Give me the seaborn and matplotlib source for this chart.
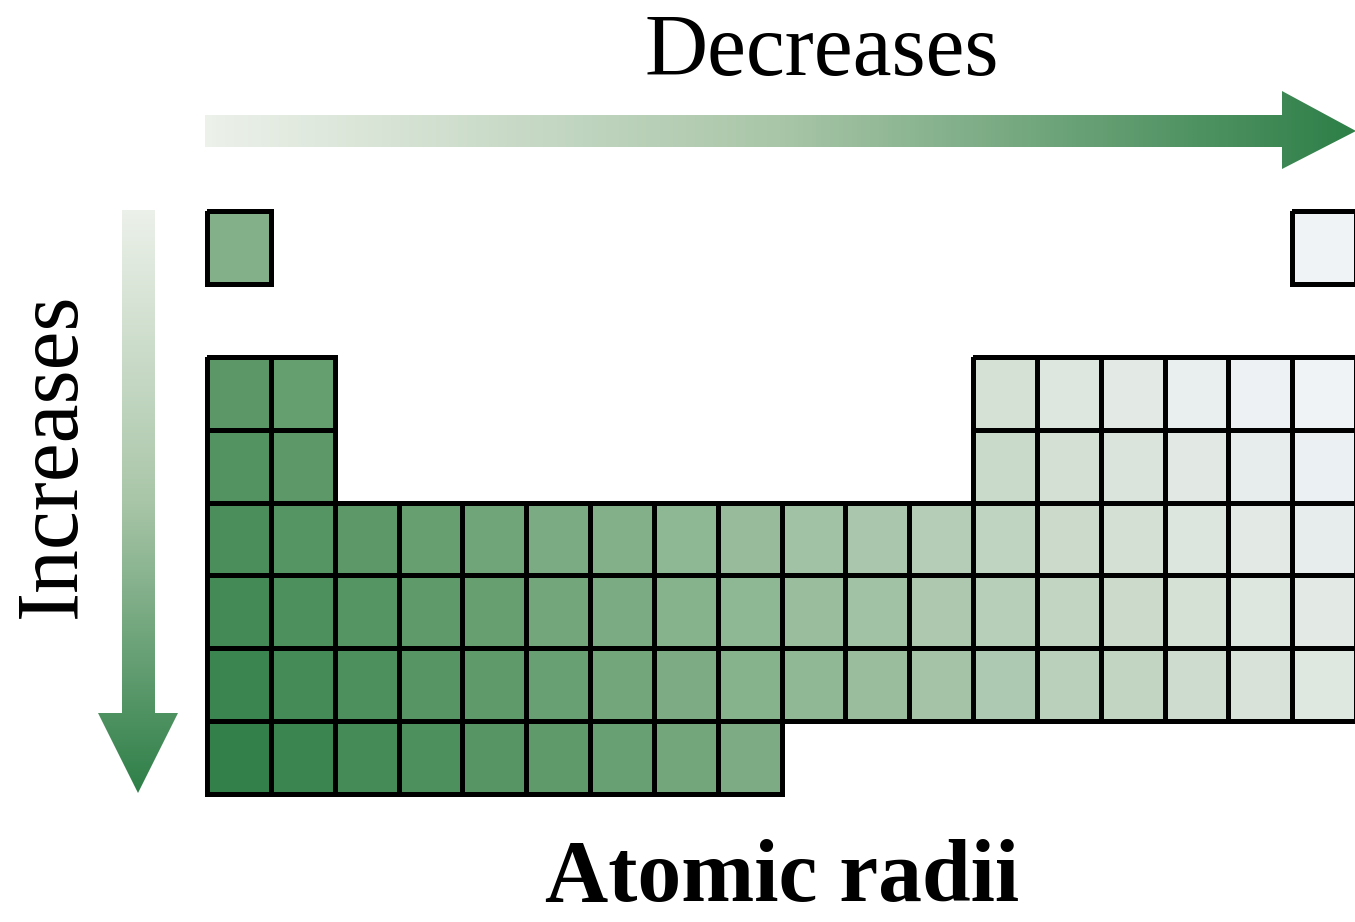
import numpy as np
import pandas as pd
import seaborn as sns
import matplotlib.pyplot as plt
from matplotlib.colors import LinearSegmentedColormap
from matplotlib.patches import Polygon

nan = np.nan

# shade of each cell (0 = white, 1 = dark green)
period_1 = [0.58] + [nan] * 16 + [0.02]
gap_row = [nan] * 18
period_2 = [0.77, 0.72] + [nan] * 10 + [0.20, 0.15, 0.11, 0.07, 0.04, 0.02]
period_3 = [0.81, 0.76] + [nan] * 10 + [0.26, 0.21, 0.17, 0.12, 0.08, 0.05]
period_4 = [0.85, 0.80, 0.76, 0.71, 0.67, 0.62, 0.58, 0.53, 0.49,
            0.44, 0.40, 0.35, 0.30, 0.25, 0.21, 0.16, 0.11, 0.08]
period_5 = [0.89, 0.84, 0.80, 0.75, 0.71, 0.66, 0.62, 0.57, 0.53,
            0.48, 0.44, 0.39, 0.34, 0.29, 0.25, 0.20, 0.15, 0.11]
period_6 = [0.93, 0.88, 0.84, 0.79, 0.75, 0.70, 0.66, 0.61, 0.57,
            0.52, 0.48, 0.43, 0.38, 0.33, 0.29, 0.24, 0.19, 0.14]
period_7 = [0.97, 0.93, 0.88, 0.84, 0.79, 0.75, 0.70, 0.66, 0.61] + [nan] * 9

groups = list(range(1, 19))
rows = ['1', '', '2', '3', '4', '5', '6', '7']

title_top = 'Decreases'
title_left = 'Increases'
title_bottom = 'Atomic radii'

df = pd.DataFrame([period_1, gap_row, period_2, period_3, period_4,
                   period_5, period_6, period_7], index=rows, columns=groups)

cell_cmap = LinearSegmentedColormap.from_list('cells', [
    (0.0, '#f2f5fa'), (0.2, '#d6e1d6'), (0.35, '#b5cdb7'),
    (0.55, '#8ab48f'), (0.75, '#5f9a6a'), (1.0, '#2e7d47')])
arrow_cmap = LinearSegmentedColormap.from_list('arrow', ['#ecf1ea', '#a9c6a8', '#2e7f48'])

plt.rcParams['font.family'] = ['Liberation Serif', 'DejaVu Serif']
W, H = 1355, 922
fig = plt.figure(figsize=(W / 100, H / 100), dpi=100)

# overlay in pixel units for the two gradient arrows
ax0 = fig.add_axes([0, 0, 1, 1])
ax0.set_xlim(0, W)
ax0.set_ylim(H, 0)
ax0.axis('off')

ramp = np.linspace(0, 1, 256)

# horizontal arrow
h_arrow = Polygon([(205, 115), (1282, 115), (1282, 91), (1356, 131),
                   (1282, 169), (1282, 147), (205, 147)], closed=True,
                  facecolor='none', edgecolor='none')
ax0.add_patch(h_arrow)
im = ax0.imshow(ramp.reshape(1, -1), extent=[205, 1356, 169, 91],
                cmap=arrow_cmap, aspect='auto', interpolation='bilinear')
im.set_clip_path(h_arrow)

# vertical arrow
v_arrow = Polygon([(122, 210), (155, 210), (155, 713), (178, 713), (138, 793),
                   (98, 713), (122, 713)], closed=True,
                  facecolor='none', edgecolor='none')
ax0.add_patch(v_arrow)
im2 = ax0.imshow(ramp.reshape(-1, 1), extent=[98, 178, 793, 210],
                 cmap=arrow_cmap, aspect='auto', interpolation='bilinear', origin='upper')
im2.set_clip_path(v_arrow)
ax0.set_xlim(0, W)
ax0.set_ylim(H, 0)

# periodic table grid
ax = fig.add_axes([207 / W, 1 - 794 / H, 1149 / W, 583 / H])
sns.heatmap(df, ax=ax, cmap=cell_cmap, vmin=0, vmax=1, cbar=False,
            linewidths=3.6, linecolor='black',
            xticklabels=False, yticklabels=False)
mesh = ax.collections[0]
mesh.set_clip_on(False)
# no outline on the empty cells
empty = df.isna().to_numpy().ravel()
edge_cols = np.zeros((empty.size, 4))
edge_cols[~empty, 3] = 1.0
mesh.set_edgecolors(edge_cols)
ax.axis('off')

fig.text(822 / W, 1 - 75 / H, title_top, fontsize=63, ha='center', va='baseline')
fig.text(75 / W, 1 - 455 / H, title_left, fontsize=63, ha='center', va='baseline',
         rotation=90, rotation_mode='anchor')
fig.text(782 / W, 1 - 920 / H, title_bottom, fontsize=63, fontweight='bold',
         ha='center', va='bottom')

fig.savefig('out.png', dpi=100)
